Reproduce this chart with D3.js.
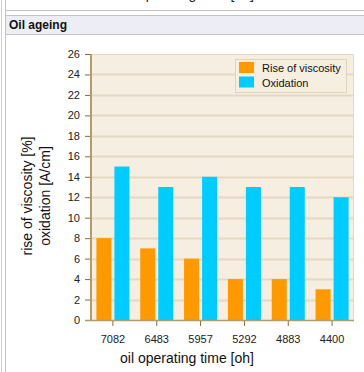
<!DOCTYPE html>
<html>
<head>
<meta charset="utf-8">
<script src="https://cdn.jsdelivr.net/npm/d3@7"></script>
<style>
  html, body { margin: 0; padding: 0; background: #ffffff; }
  svg { display: block; font-family: "Liberation Sans", Arial, sans-serif; }
</style>
</head>
<body>
<svg id="chart" width="364" height="372"></svg>
<script>
// Oil ageing: rise of viscosity and oxidation versus operating time
const categories = ["7082", "6483", "5957", "5292", "4883", "4400"];
const seriesNames = ["Rise of viscosity", "Oxidation"];
const viscosity = [8, 7, 6, 4, 4, 3];
const oxidation = [15, 13, 14, 13, 13, 12];
const seriesColors = ["#ff9900", "#00ccff"];
const yTicks = [0, 2, 4, 6, 8, 10, 12, 14, 16, 18, 20, 22, 24, 26];

const values = [viscosity, oxidation];
const svg = d3.select("#chart");

// page frame: previous row, column rules and section header
svg.append("line").attr("x1", 1.5).attr("x2", 1.5).attr("y1", 0).attr("y2", 372)
  .attr("stroke", "#cfcfcf").attr("stroke-width", 1);
svg.append("line").attr("x1", 5.5).attr("x2", 5.5).attr("y1", 0).attr("y2", 372)
  .attr("stroke", "#c4c4c4").attr("stroke-width", 1);
svg.append("line").attr("x1", 5).attr("x2", 364).attr("y1", 10.5).attr("y2", 10.5)
  .attr("stroke", "#c4c4c4").attr("stroke-width", 1);
svg.append("text").attr("x", 187).attr("y", -1).attr("text-anchor", "middle")
  .attr("font-size", 14).attr("fill", "#222").text("oil operating time [oh]");

svg.append("rect").attr("x", 5.5).attr("y", 15.5).attr("width", 360).attr("height", 19)
  .attr("fill", "#ededf5").attr("stroke", "#c4c4c4").attr("stroke-width", 1);
svg.append("text").attr("x", 9).attr("y", 29).attr("font-size", 12).attr("font-weight", "bold")
  .attr("fill", "#111").text("Oil ageing");

// plot geometry
const plotLeft = 91, plotRight = 354, plotTop = 54, plotBottom = 320;

const x = d3.scaleBand().domain(categories).range([plotLeft, plotRight]).paddingInner(0).paddingOuter(0);
const xs = d3.scaleBand().domain(seriesNames).range([0, x.bandwidth()])
  .paddingInner(3 / 18).paddingOuter(0.3);
const y = d3.scaleLinear().domain([0, 26]).range([plotBottom, plotTop]);

// plot background
svg.append("rect").attr("x", plotLeft).attr("y", plotTop + 0.5).attr("width", plotRight - plotLeft - 0.5)
  .attr("height", plotBottom - plotTop).attr("fill", "#f6eee0").attr("stroke", "#e4d9c3").attr("stroke-width", 1);

// horizontal grid
svg.append("g").selectAll("line").data(yTicks.filter(d => d > 0 && d < 26)).join("line")
  .attr("x1", plotLeft).attr("x2", plotRight)
  .attr("y1", d => Math.round(y(d)) + 0.5).attr("y2", d => Math.round(y(d)) + 0.5)
  .attr("stroke", "#e3d8c1").attr("stroke-width", 2);

// bars
const groups = svg.append("g").selectAll("g").data(categories).join("g")
  .attr("transform", d => `translate(${x(d)},0)`);
groups.selectAll("rect")
  .data((c, i) => seriesNames.map((s, k) => ({ s, v: values[k][i], color: seriesColors[k] })))
  .join("rect")
  .attr("x", d => xs(d.s))
  .attr("width", xs.bandwidth())
  .attr("y", d => y(d.v))
  .attr("height", d => y(0) - y(d.v))
  .attr("fill", d => d.color);

// y axis
const yAxis = svg.append("g").attr("transform", `translate(${plotLeft},0)`)
  .call(d3.axisLeft(y).tickValues(yTicks).tickSize(6).tickPadding(5).tickFormat(d3.format("d")));
yAxis.select(".domain").remove();
yAxis.selectAll(".tick line").attr("stroke", "#8e6a2c");
yAxis.selectAll(".tick text").attr("font-size", 11).attr("fill", "#222")
  .attr("font-family", "Liberation Sans, Arial, sans-serif");
svg.append("line").attr("x1", plotLeft).attr("x2", plotLeft).attr("y1", plotTop).attr("y2", plotBottom + 1)
  .attr("stroke", "#b39b6c").attr("stroke-width", 2);

// x axis
const xAxis = svg.append("g").attr("transform", `translate(0,${plotBottom})`)
  .call(d3.axisBottom(x).tickSize(6).tickPadding(9));
xAxis.select(".domain").remove();
xAxis.selectAll(".tick line").attr("stroke", "#8e6a2c");
xAxis.selectAll(".tick text").attr("font-size", 11).attr("fill", "#222")
  .attr("font-family", "Liberation Sans, Arial, sans-serif");
svg.append("line").attr("x1", plotLeft - 6).attr("x2", plotRight).attr("y1", plotBottom + 0.5).attr("y2", plotBottom + 0.5)
  .attr("stroke", "#b39b6c").attr("stroke-width", 1.5);

// axis titles
svg.append("text").attr("x", 187).attr("y", 363).attr("text-anchor", "middle")
  .attr("font-size", 14).attr("fill", "#111").text("oil operating time [oh]");
const yTitle = svg.append("text").attr("transform", "translate(0,196) rotate(-90)")
  .attr("text-anchor", "middle").attr("font-size", 14).attr("fill", "#111");
yTitle.append("tspan").attr("x", 0).attr("y", 32).text("rise of viscosity [%]");
yTitle.append("tspan").attr("x", 0).attr("y", 50).text("oxidation [A/cm]");

// legend
const legend = svg.append("g").attr("transform", "translate(235.5,59.5)");
legend.append("rect").attr("width", 111).attr("height", 33)
  .attr("fill", "#f6eee0").attr("stroke", "#ddd3bf").attr("stroke-width", 1);
const items = legend.selectAll("g").data(seriesNames).join("g")
  .attr("transform", (d, i) => `translate(3.5,${2.5 + i * 14.5})`);
items.append("rect").attr("width", 15).attr("height", 11)
  .attr("fill", (d, i) => seriesColors[i]);
items.append("text").attr("x", 23).attr("y", 10).attr("font-size", 11).attr("fill", "#111")
  .text(d => d);
</script>
</body>
</html>
